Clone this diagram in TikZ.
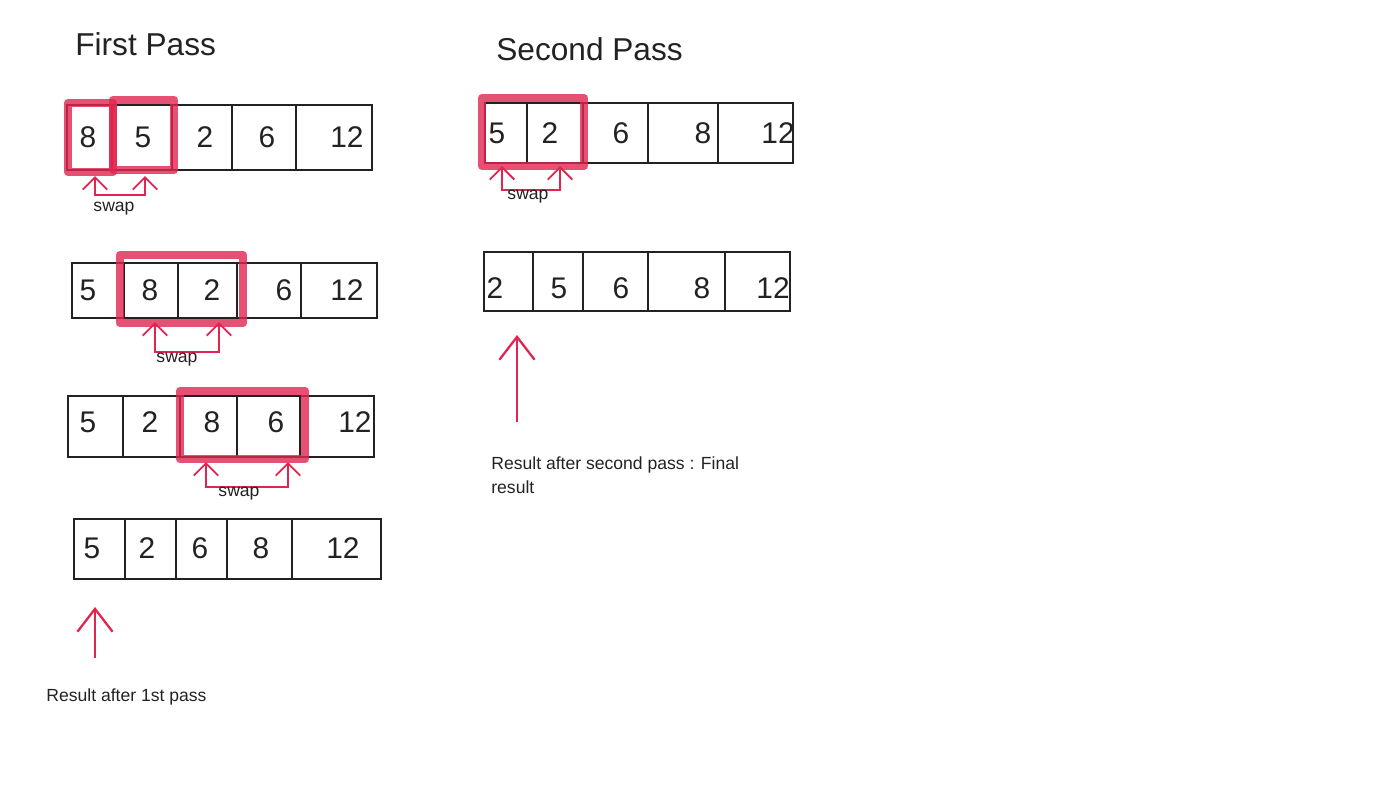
\documentclass[tikz,border=0pt]{standalone}
\usepackage{fontspec}
\setmainfont{Liberation Sans}
\usetikzlibrary{arrows.meta}
\definecolor{marker}{RGB}{224,38,80}
\definecolor{ink}{RGB}{34,34,34}
\tikzset{
  arraybox/.style={line width=1.1pt, draw=ink},
  num/.style={font=\fontsize{17}{18}\selectfont, text=ink},
  hilite/.style={draw=marker, line width=4.8pt, opacity=0.8, line join=round},
  swaparrow/.style={draw=marker, line width=1.1pt, {Straight Barb[length=7pt,width=14pt]}-{Straight Barb[length=7pt,width=14pt]}},
  resarrow/.style={draw=marker, line width=1.3pt, -{Straight Barb[length=13pt,width=20pt]}},
  note/.style={font=\fontsize{10}{13.6}\selectfont, text=ink, anchor=west, align=left, inner sep=0pt},
  passtitle/.style={font=\fontsize{18}{20}\selectfont, text=ink, anchor=west, inner sep=0pt}
}
\begin{document}
\begin{tikzpicture}[x=0.02cm, y=-0.02cm]
    \useasboundingbox (0,0) rectangle (1400,788);
    % titles
    \node[passtitle] (first) at (75,44) {First Pass};
    \node[passtitle] (second) at (496,49) {Second Pass};

    % first pass, step 1
    \draw[arraybox] (67,105) rectangle (372,170);
    \draw[arraybox] (112,105) -- (112,170) (172,105) -- (172,170) (232,105) -- (232,170) (296,105) -- (296,170);
    \node[num] (p1a) at (88,137) {8};
    \node[num] (p1b) at (143,137) {5};
    \node[num] (p1c) at (205,137) {2};
    \node[num] (p1d) at (267,137) {6};
    \node[num] (p1e) at (347,137) {12};
    \draw[hilite] (68,103) rectangle (113,172);
    \draw[hilite] (113,100) rectangle (174,170);
    \coordinate (s1l) at (95,176);
    \coordinate (s1r) at (145,176);
    \draw[swaparrow] (s1l) -- ++(0,19) -| (s1r);
    \node[note, anchor=center] (w1) at (114,209) {swap};

    % first pass, step 2
    \draw[arraybox] (72,263) rectangle (377,318);
    \draw[arraybox] (124,263) -- (124,318) (178,263) -- (178,318) (237,263) -- (237,318) (301,263) -- (301,318);
    \node[num] (p2a) at (88,290) {5};
    \node[num] (p2b) at (150,290) {8};
    \node[num] (p2c) at (212,290) {2};
    \node[num] (p2d) at (284,290) {6};
    \node[num] (p2e) at (347,290) {12};
    \draw[hilite] (120,255) rectangle (243,323);
    \coordinate (s2l) at (155,322);
    \coordinate (s2r) at (219,322);
    \draw[swaparrow] (s2l) -- ++(0,30) -| (s2r);
    \node[note, anchor=center] (w2) at (177,360) {swap};

    % first pass, step 3
    \draw[arraybox] (68,396) rectangle (374,457);
    \draw[arraybox] (123,396) -- (123,457) (180,396) -- (180,457) (237,396) -- (237,457) (300,396) -- (300,457);
    \node[num] (p3a) at (88,422) {5};
    \node[num] (p3b) at (150,422) {2};
    \node[num] (p3c) at (212,422) {8};
    \node[num] (p3d) at (276,422) {6};
    \node[num] (p3e) at (355,422) {12};
    \draw[hilite] (180,391) rectangle (305,459);
    \coordinate (s3l) at (206,462);
    \coordinate (s3r) at (288,462);
    \draw[swaparrow] (s3l) -- ++(0,25) -| (s3r);
    \node[note, anchor=center] (w3) at (239,494) {swap};

    % result after first pass
    \draw[arraybox] (74,519) rectangle (381,579);
    \draw[arraybox] (125,519) -- (125,579) (176,519) -- (176,579) (227,519) -- (227,579) (292,519) -- (292,579);
    \node[num] (p4a) at (92,548) {5};
    \node[num] (p4b) at (147,548) {2};
    \node[num] (p4c) at (200,548) {6};
    \node[num] (p4d) at (261,548) {8};
    \node[num] (p4e) at (343,548) {12};
    \coordinate (r1lo) at (95,658);
    \coordinate (r1hi) at (95,607);
    \draw[resarrow] (r1lo) -- (r1hi);
    \node[note] (res1) at (46,697) {Result after 1st pass};

    % second pass, step 1
    \draw[arraybox] (485,103) rectangle (793,163);
    \draw[arraybox] (527,103) -- (527,163) (583,103) -- (583,163) (648,103) -- (648,163) (718,103) -- (718,163);
    \node[num] (q1a) at (497,133) {5};
    \node[num] (q1b) at (550,133) {2};
    \node[num] (q1c) at (621,133) {6};
    \node[num] (q1d) at (703,133) {8};
    \node[num] (q1e) at (778,133) {12};
    \draw[hilite] (482,98) rectangle (584,166);
    \coordinate (t1l) at (502,166);
    \coordinate (t1r) at (560,166);
    \draw[swaparrow] (t1l) -- ++(0,24) -| (t1r);
    \node[note, anchor=center] (w4) at (528,197) {swap};

    % result after second pass
    \draw[arraybox] (484,252) rectangle (790,311);
    \draw[arraybox] (533,252) -- (533,311) (583,252) -- (583,311) (648,252) -- (648,311) (725,252) -- (725,311);
    \node[num] (q2a) at (495,288) {2};
    \node[num] (q2b) at (559,288) {5};
    \node[num] (q2c) at (621,288) {6};
    \node[num] (q2d) at (702,288) {8};
    \node[num] (q2e) at (773,288) {12};
    \coordinate (r2lo) at (517,422);
    \coordinate (r2hi) at (517,335);
    \draw[resarrow] (r2lo) -- (r2hi);
    \node[note] (res2) at (491,475) {Result after second pass : Final\\result};
\end{tikzpicture}
\end{document}
